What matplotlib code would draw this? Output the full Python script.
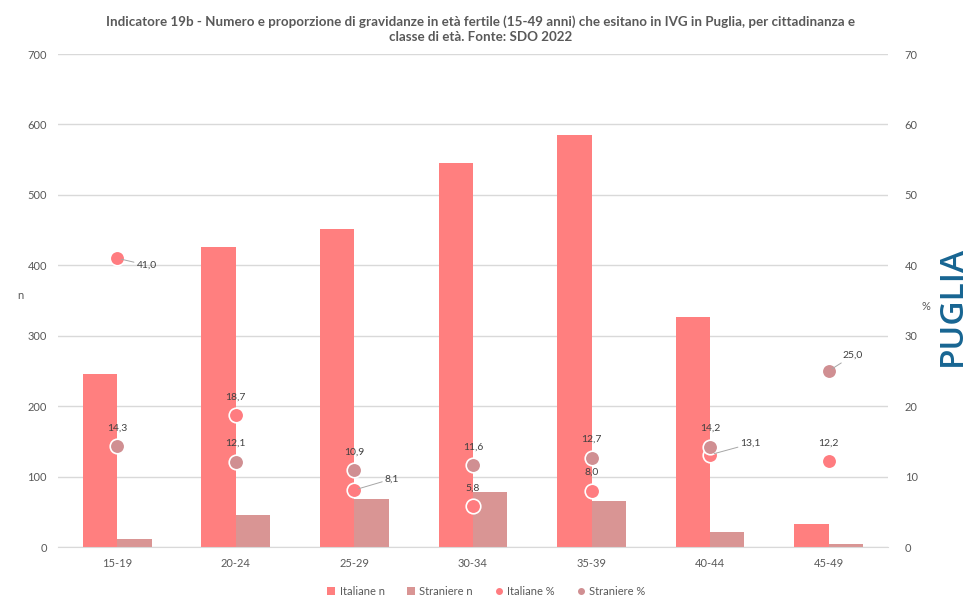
import matplotlib
matplotlib.use("Agg")
import matplotlib.pyplot as plt
import numpy as np
from matplotlib.lines import Line2D

plt.rcParams['font.family'] = ['Lato', 'DejaVu Sans']

categories = ["15-19", "20-24", "25-29", "30-34", "35-39", "40-44", "45-49"]
italiane_n = [246, 426, 452, 545, 585, 326, 33]
straniere_n = [11, 46, 68, 78, 65, 22, 4]
italiane_pct = [41.0, 18.7, 8.1, 5.8, 8.0, 13.1, 12.2]
straniere_pct = [14.3, 12.1, 10.9, 11.6, 12.7, 14.2, 25.0]

c_ita = "#FF7F7F"
c_str = "#D99594"
c_ita_dot = "#FF7C80"
c_str_dot = "#D08F92"
tick_col = "#595959"
grid_col = "#D9D9D9"

fig = plt.figure(figsize=(9.73, 5.99), dpi=100)
ax = fig.add_axes([0.0596, 0.0868, 0.853, 0.823])
ax2 = ax.twinx()

x = np.arange(len(categories))
w = 0.29
ax.bar(x - w / 2, italiane_n, width=w, color=c_ita, label="Italiane n", zorder=2)
ax.bar(x + w / 2, straniere_n, width=w, color=c_str, label="Straniere n", zorder=2)

ax.set_ylim(0, 700)
ax.set_yticks(range(0, 701, 100))
ax.set_xlim(-0.5, 6.5)
ax.set_xticks(x)
ax.set_xticklabels(categories)
ax.grid(axis='y', color=grid_col, linewidth=1, zorder=0)
ax.set_axisbelow(True)
for s in ["top", "right", "left"]:
    ax.spines[s].set_visible(False)
ax.spines["bottom"].set_color(grid_col)
ax.tick_params(axis='both', length=0, colors=tick_col, labelsize=8, pad=8)
ax.set_ylabel("n", color=tick_col, fontsize=8, rotation=0, labelpad=5)

ax2.set_ylim(0, 70)
ax2.set_yticks(range(0, 71, 10))
for s in ["top", "right", "left", "bottom"]:
    ax2.spines[s].set_visible(False)
ax2.tick_params(axis='y', length=0, colors=tick_col, labelsize=8, pad=12)
ax2.set_ylabel("%", color=tick_col, fontsize=8, rotation=0, labelpad=6)

ax2.scatter(x, italiane_pct, s=110, color=c_ita_dot, edgecolors="white",
            linewidths=1.2, zorder=4, label="Italiane %")
ax2.scatter(x, straniere_pct, s=110, color=c_str_dot, edgecolors="white",
            linewidths=1.2, zorder=4, label="Straniere %")

def fmt(v):
    return f"{v:.1f}".replace(".", ",")

lbl = dict(fontsize=7.5, color="#404040")
ita_off = [(14, -5, True), (0, 10, False), (22, 8, True), (0, 10, False), (0, 10, False), (22, 8, True), (0, 10, False)]
str_off = [(0, 10, False), (0, 10, False), (0, 10, False), (0, 10, False), (0, 10, False), (0, 10, False), (10, 11, True)]

def place(vals, offs):
    for xi, v, (dx, dy, lead) in zip(x, vals, offs):
        if lead:
            ax2.annotate(fmt(v), (xi, v), xytext=(dx, dy), textcoords="offset points",
                         ha="left", va="center",
                         arrowprops=dict(arrowstyle="-", color="#A6A6A6", lw=0.7, shrinkA=0, shrinkB=3),
                         zorder=5, **lbl)
        else:
            ax2.annotate(fmt(v), (xi, v), xytext=(dx, dy), textcoords="offset points",
                         ha="center", va="bottom", zorder=5, **lbl)

place(italiane_pct, ita_off)
place(straniere_pct, str_off)

fig.text(0.494, 0.975, "Indicatore 19b - Numero e proporzione di gravidanze in età fertile (15-49 anni) che esitano in IVG in Puglia, per cittadinanza e\nclasse di età. Fonte: SDO 2022",
         ha="center", va="top", fontsize=9.6, fontweight="bold", color="#595959", linespacing=1.35)

h1, l1 = ax.get_legend_handles_labels()
h2 = [Line2D([], [], marker="o", linestyle="", color=c_ita_dot, markersize=4),
      Line2D([], [], marker="o", linestyle="", color=c_str_dot, markersize=4)]
leg = fig.legend(h1 + h2, l1 + ["Italiane %", "Straniere %"], loc="center",
                 bbox_to_anchor=(0.5, 0.013), ncol=4, frameon=False, fontsize=8,
                 handlelength=0.7, handleheight=0.7, handletextpad=0.4, columnspacing=2.0)
for t in leg.get_texts():
    t.set_color(tick_col)

fig.text(0.979, 0.49, "PUGLIA", rotation=90, ha="center", va="center", fontsize=24,
         fontweight="semibold", color="#176592", family=["Open Sans", "DejaVu Sans"])

fig.savefig("out.png", dpi=100)
